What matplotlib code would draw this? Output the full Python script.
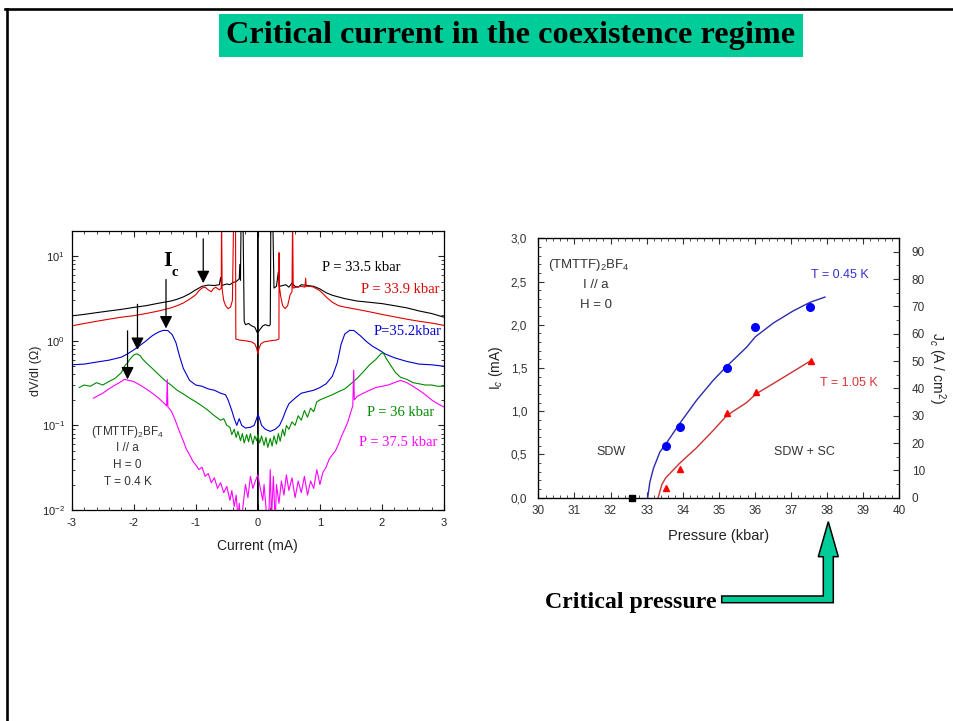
import numpy as np
import matplotlib.pyplot as plt
from matplotlib.ticker import MultipleLocator, FuncFormatter, LogLocator, NullFormatter
from matplotlib.patches import Rectangle, Polygon
from matplotlib.lines import Line2D

plt.rcParams['font.family'] = ['Liberation Sans', 'DejaVu Sans']
plt.rcParams['mathtext.fontset'] = 'custom'
plt.rcParams['mathtext.rm'] = 'Liberation Sans'
plt.rcParams['mathtext.it'] = 'Liberation Sans:italic'
plt.rcParams['mathtext.bf'] = 'Liberation Sans:bold'
plt.rcParams['axes.unicode_minus'] = False

# ---- dV/dI vs current, T = 0.4 K ----
i_335 = [-3.0, -2.8, -2.6, -2.4, -2.2, -2.0, -1.8, -1.6, -1.4, -1.3, -1.2, -1.1, -1.0, -0.9, -0.8,
         -0.7, -0.62, -0.6, -0.58, -0.5, -0.45, -0.4, -0.35, -0.3, -0.29, -0.28, -0.27, -0.24,
         -0.22, -0.2, -0.15, -0.1, -0.05, -0.02, 0.0, 0.0, 0.0, 0.0, 0.03, 0.08, 0.12, 0.18, 0.2,
         0.21, 0.24, 0.26, 0.3, 0.33, 0.35, 0.4, 0.45, 0.5, 0.55, 0.6, 0.65, 0.7, 0.8, 0.9, 1.0,
         1.1, 1.2, 1.4, 1.6, 1.8, 2.0, 2.2, 2.4, 2.6, 2.8, 3.0]
r_335 = [1.97, 2.05, 2.15, 2.25, 2.35, 2.48, 2.6, 2.78, 2.95, 3.1, 3.3, 3.6, 4.0, 4.4, 4.55,
         4.5, 4.6, 5.6, 4.5, 4.7, 4.6, 4.9, 5.0, 5.4, 8.0, 5.2, 30, 30,
         1.7, 1.55, 1.6, 1.5, 1.45, 1.3, 1.2, 0.005, 30, 1.25, 1.35, 1.5, 1.55, 1.5, 1.55,
         30, 30, 4.2, 4.4, 6.5, 4.4, 4.5, 4.6, 4.3, 4.8, 4.4, 4.3, 4.6, 4.5, 4.4, 4.1,
         3.7, 3.45, 3.15, 2.95, 2.85, 2.75, 2.6, 2.45, 2.25, 2.1, 1.9]

i_339 = [-3.0, -2.8, -2.6, -2.4, -2.2, -2.0, -1.8, -1.6, -1.4, -1.3, -1.2, -1.1, -1.0, -0.95,
         -0.9, -0.85, -0.8, -0.75, -0.72, -0.68, -0.62, -0.59, -0.585, -0.575, -0.55, -0.52,
         -0.48, -0.44, -0.41, -0.39, -0.36, -0.355, -0.3, -0.2, -0.1, -0.05, -0.02, 0.0, 0.02,
         0.05, 0.1, 0.2, 0.3, 0.34, 0.342, 0.345, 0.37, 0.4, 0.44, 0.48, 0.52, 0.55, 0.56, 0.57,
         0.62, 0.7, 0.76, 0.77, 0.78, 0.85, 0.9, 1.0, 1.05, 1.1, 1.2, 1.3, 1.4, 1.6, 1.8, 2.0,
         2.2, 2.4, 2.6, 2.8, 3.0]
r_339 = [1.5, 1.6, 1.7, 1.8, 1.9, 1.98, 2.1, 2.25, 2.45, 2.6, 2.8, 3.1, 3.5, 3.9,
         4.2, 4.3, 4.0, 3.8, 4.1, 4.3, 4.0, 4.2, 30, 4.0, 3.0, 2.6,
         2.4, 2.5, 3.0, 30, 30, 1.05, 1.02, 1.0, 0.97, 0.92, 0.82, 0.7, 0.82,
         0.92, 0.97, 1.0, 1.02, 1.05, 11, 4.5, 3.3, 2.6, 2.4, 2.6, 3.5, 3.8, 30, 4.2,
         4.3, 4.4, 4.3, 5.5, 4.4, 4.4, 4.3, 3.9, 3.6, 3.3, 2.85, 2.6, 2.5, 2.35, 2.2, 2.05,
         1.92, 1.8, 1.7, 1.62, 1.52]

i_352 = [-3.0, -2.8, -2.6, -2.4, -2.2, -2.1, -2.0, -1.9, -1.8, -1.7, -1.6, -1.52, -1.45, -1.38,
         -1.32, -1.26, -1.2, -1.1, -1.0, -0.9, -0.8, -0.7, -0.6, -0.52, -0.48, -0.42, -0.38,
         -0.34, -0.3, -0.26, -0.2, -0.12, -0.06, -0.02, 0.0, 0.02, 0.06, 0.12, 0.2, 0.28, 0.35,
         0.4, 0.45, 0.5, 0.6, 0.7, 0.8, 0.9, 1.0, 1.1, 1.2, 1.28, 1.34, 1.4, 1.48, 1.55, 1.65,
         1.75, 1.85, 1.95, 2.05, 2.2, 2.4, 2.6, 2.8, 3.0]
r_352 = [0.52, 0.53, 0.56, 0.59, 0.64, 0.7, 0.78, 0.88, 1.0, 1.15, 1.27, 1.33, 1.32, 1.18,
         0.95, 0.65, 0.47, 0.34, 0.3, 0.29, 0.27, 0.26, 0.24, 0.23, 0.2, 0.15, 0.12,
         0.1, 0.12, 0.1, 0.093, 0.095, 0.1, 0.12, 0.135, 0.125, 0.1, 0.09, 0.085, 0.09, 0.1,
         0.12, 0.15, 0.18, 0.21, 0.24, 0.25, 0.26, 0.28, 0.31, 0.38, 0.55, 0.9, 1.2, 1.33, 1.32,
         1.15, 0.98, 0.86, 0.78, 0.7, 0.63, 0.57, 0.53, 0.52, 0.5]

i_360 = [-2.88, -2.8, -2.7, -2.6, -2.5, -2.4, -2.3, -2.2, -2.15, -2.1, -2.05, -2.0, -1.95, -1.9,
         -1.85, -1.8, -1.7, -1.6, -1.5, -1.4, -1.3, -1.2, -1.1, -1.0, -0.9, -0.8, -0.7, -0.6,
         -0.55, -0.5, -0.45, -0.42, -0.38, -0.35, -0.32, -0.28, -0.25, -0.22, -0.18, -0.15,
         -0.12, -0.08, -0.05, -0.02, 0.0, 0.03, 0.06, 0.1, 0.13, 0.16, 0.2, 0.23, 0.26, 0.3,
         0.33, 0.36, 0.4, 0.43, 0.46, 0.5, 0.55, 0.6, 0.65, 0.7, 0.75, 0.8, 0.85, 0.9, 0.95,
         1.0, 1.1, 1.2, 1.3, 1.4, 1.5, 1.6, 1.7, 1.8, 1.9, 1.98, 2.02, 2.08, 2.15, 2.22, 2.3,
         2.4, 2.5, 2.6, 2.7, 2.8, 2.9, 3.0]
r_360 = [0.28, 0.3, 0.29, 0.32, 0.3, 0.33, 0.36, 0.42, 0.5, 0.55, 0.62, 0.68, 0.7, 0.67,
         0.6, 0.55, 0.47, 0.4, 0.34, 0.3, 0.26, 0.235, 0.21, 0.19, 0.17, 0.15, 0.13, 0.115,
         0.12, 0.1, 0.095, 0.078, 0.09, 0.072, 0.085, 0.066, 0.08, 0.062, 0.078, 0.064,
         0.08, 0.06, 0.075, 0.066, 0.078, 0.062, 0.075, 0.058, 0.072, 0.055, 0.07, 0.057, 0.075,
         0.06, 0.08, 0.065, 0.09, 0.075, 0.1, 0.09, 0.11, 0.1, 0.13, 0.115, 0.15, 0.125, 0.16,
         0.145, 0.19, 0.2, 0.215, 0.23, 0.25, 0.27, 0.31, 0.36, 0.43, 0.52, 0.6, 0.7, 0.72, 0.6,
         0.5, 0.42, 0.37, 0.35, 0.32, 0.31, 0.3, 0.3, 0.29, 0.29]

i_375 = [-2.65, -2.5, -2.4, -2.3, -2.2, -2.15, -2.08, -2.0, -1.9, -1.8, -1.7, -1.6, -1.5, -1.47,
         -1.46, -1.45, -1.4, -1.35, -1.3, -1.25, -1.2, -1.15, -1.1, -1.05, -1.0, -0.95, -0.9,
         -0.85, -0.8, -0.75, -0.7, -0.65, -0.6, -0.55, -0.5, -0.45, -0.42, -0.38, -0.35, -0.32,
         -0.3, -0.27, -0.24, -0.2, -0.16, -0.12, -0.08, -0.04, 0.0, 0.04, 0.08, 0.1, 0.14, 0.17,
         0.2, 0.22, 0.25, 0.28, 0.3, 0.34, 0.38, 0.42, 0.46, 0.5, 0.55, 0.6, 0.65, 0.7, 0.75,
         0.8, 0.85, 0.9, 0.95, 1.0, 1.05, 1.1, 1.15, 1.2, 1.25, 1.3, 1.35, 1.4, 1.45, 1.5, 1.53,
         1.545, 1.555, 1.6, 1.7, 1.8, 1.9, 2.0, 2.1, 2.2, 2.3, 2.35, 2.4, 2.5, 2.6, 2.7, 2.8,
         2.9, 3.0]
r_375 = [0.21, 0.24, 0.27, 0.3, 0.33, 0.35, 0.34, 0.33, 0.3, 0.27, 0.24, 0.21, 0.18, 0.17,
         0.35, 0.165, 0.15, 0.125, 0.1, 0.08, 0.065, 0.052, 0.045, 0.038, 0.034, 0.03, 0.032,
         0.025, 0.027, 0.021, 0.024, 0.018, 0.021, 0.016, 0.019, 0.013, 0.017, 0.011, 0.015, 0.008,
         0.012, 0.006, 0.011, 0.02, 0.014, 0.025, 0.018, 0.022, 0.026, 0.018, 0.013, 0.02, 0.009, 0.006,
         0.03, 0.008, 0.025, 0.007, 0.02, 0.012, 0.022, 0.015, 0.026, 0.017, 0.024, 0.014, 0.022, 0.016, 0.025,
         0.015, 0.022, 0.018, 0.03, 0.02, 0.028, 0.032, 0.04, 0.045, 0.05, 0.06, 0.075, 0.09, 0.11, 0.145, 0.17,
         0.45, 0.2, 0.22, 0.24, 0.26, 0.28, 0.29, 0.3, 0.32, 0.34, 0.33, 0.32, 0.29, 0.26, 0.23, 0.2,
         0.18, 0.165]

curves = [(i_335, r_335, 'black'), (i_339, r_339, '#e00000'), (i_352, r_352, '#0000d0'),
          (i_360, r_360, '#008a00'), (i_375, r_375, '#ff00ff')]

# critical current arrows: x, tail, tip
ic_pos = [-0.88, -1.48, -1.94, -2.1]
ic_tail = [16, 5.3, 2.7, 1.31]
ic_tip = [4.8, 1.4, 0.78, 0.35]

p_labels = ['P = 33.5 kbar', 'P = 33.9 kbar', 'P=35.2kbar', 'P = 36 kbar', 'P = 37.5 kbar']
p_colors = ['black', '#e00000', '#0000d0', '#008a00', '#ff00ff']

# ---- Ic vs pressure ----
p_045 = [33.53, 33.92, 35.22, 36.01, 37.53]
ic_045 = [0.6, 0.82, 1.5, 1.97, 2.21]
p_105 = [33.53, 33.92, 35.22, 36.03, 37.55]
ic_105 = [0.11, 0.33, 0.98, 1.22, 1.58]
p_sdw = [32.6]
ic_sdw = [0.0]
fit_p_045 = [33.03, 33.09, 33.19, 33.37, 33.53, 33.92, 34.39, 34.85, 35.22, 35.77, 36.01, 36.51,
             37.06, 37.53, 37.94]
fit_ic_045 = [0.0, 0.18, 0.34, 0.53, 0.62, 0.86, 1.13, 1.36, 1.52, 1.74, 1.86, 2.02,
              2.16, 2.26, 2.32]
fit_p_105 = [33.32, 33.42, 33.53, 33.92, 34.39, 34.85, 35.22, 35.77, 36.03, 36.51, 37.06, 37.57]
fit_ic_105 = [0.0, 0.15, 0.23, 0.4, 0.58, 0.78, 0.95, 1.1, 1.2, 1.32, 1.46, 1.59]

W, H = 954, 721
fig = plt.figure(figsize=(W / 100, H / 100), dpi=100)


def box(x0, y0, x1, y1):
    return [x0 / W, 1 - y1 / H, (x1 - x0) / W, (y1 - y0) / H]


def fpt(x, y):
    return (x / W, 1 - y / H)


# slide frame
fig.add_artist(Line2D([5 / W, 1], [1 - 8.5 / H] * 2, color='black', lw=1.9))
fig.add_artist(Line2D([7.5 / W] * 2, [1 - 8.5 / H, 0], color='black', lw=1.9))

# title banner
fig.add_artist(Rectangle((219 / W, 1 - 57 / H), 584 / W, 43 / H, transform=fig.transFigure,
                         facecolor='#00cc99', edgecolor='none'))
fig.text(511 / W, 1 - 36 / H, 'Critical current in the coexistence regime', ha='center', va='center',
         family='Liberation Serif', weight='bold', fontsize=23.2)

# ---- left panel ----
ax1 = fig.add_axes(box(71.7, 230.7, 444, 510))
for xs, ys, c in curves:
    ax1.plot(xs, ys, color=c, lw=0.8)
ax1.set_yscale('log')
ax1.set_xlim(-3, 3)
ax1.set_ylim(0.01, 20)
ax1.xaxis.set_major_locator(MultipleLocator(1))
ax1.xaxis.set_minor_locator(MultipleLocator(0.2))
ax1.yaxis.set_minor_locator(LogLocator(base=10, subs=np.arange(2, 10)))
ax1.yaxis.set_minor_formatter(NullFormatter())
ax1.tick_params(which='both', direction='in', top=True, right=True, labelsize=8, colors='#222222')
ax1.tick_params(which='major', length=4, width=0.8)
ax1.tick_params(which='minor', length=2, width=0.6)
ax1.tick_params(axis='x', pad=6)
ax1.tick_params(axis='y', pad=5)
ax1.set_xlabel('Current (mA)', fontsize=10, color='#222222', labelpad=8)
ax1.set_ylabel('dV/dI (\u03a9)', fontsize=9, color='#222222', labelpad=0)
for s in ax1.spines.values():
    s.set_linewidth(0.9)

for x, y0, y1 in zip(ic_pos, ic_tail, ic_tip):
    ax1.annotate('', xy=(x, y1), xytext=(x, y0),
                 arrowprops=dict(arrowstyle='-|>,head_length=0.75,head_width=0.38', color='black',
                                 lw=0.9, shrinkA=0, shrinkB=0))
ax1.text(-1.46, 7.6, 'I', family='Liberation Serif', weight='bold', fontsize=16, ha='center', va='baseline')
ax1.text(-1.39, 7.6, 'c', family='Liberation Serif', weight='bold', fontsize=10.5, ha='left', va='top')

p_pos = [(2.3, 7.4), (2.93, 4.0), (2.96, 1.28), (2.85, 0.143), (2.9, 0.063)]
for (x, y), lab, c in zip(p_pos, p_labels, p_colors):
    ax1.text(x, y, lab, color=c, family='Liberation Serif', fontsize=10.5, ha='right', va='center')

sample = ['(TMTTF)$_2$BF$_4$', 'I // a', 'H = 0', 'T = 0.4 K']
for k, line in enumerate(sample):
    ax1.text(-2.1, [0.083, 0.054, 0.034, 0.0215][k], line, fontsize=8.5, color='#333333',
             ha='center', va='center')

# ---- right panel ----
ax2 = fig.add_axes(box(538.3, 238.3, 899.3, 497.7))
ax2.plot(fit_p_045, fit_ic_045, color='#2b2bb0', lw=1.0)
ax2.plot(fit_p_105, fit_ic_105, color='#c83232', lw=1.0)
ax2.plot(p_045, ic_045, 'o', color='#0000ff', ms=5.5)
ax2.plot(p_105, ic_105, '^', color='#ff0000', ms=4.8)
ax2.plot(p_sdw, ic_sdw, 's', color='black', ms=5, clip_on=False)
ax2.set_xlim(30, 40)
ax2.set_ylim(0, 3.0)
ax2.xaxis.set_major_locator(MultipleLocator(1))
ax2.xaxis.set_minor_locator(MultipleLocator(0.2))
ax2.yaxis.set_major_locator(MultipleLocator(0.5))
ax2.yaxis.set_minor_locator(MultipleLocator(0.1))
ax2.yaxis.set_major_formatter(FuncFormatter(lambda v, p: f'{v:.1f}'.replace('.', ',')))
ax2.tick_params(which='both', direction='in', top=True, labelsize=8.5, colors='#333333')
ax2.tick_params(which='major', length=4, width=0.8)
ax2.tick_params(which='minor', length=2, width=0.6)
ax2.tick_params(axis='y', pad=8)
ax2.tick_params(axis='x', pad=5)
ax2.set_xlabel('Pressure (kbar)', fontsize=10.5, color='#222222', labelpad=9)
ax2.set_ylabel('I$_c$ (mA)', fontsize=10, color='#222222', labelpad=4)
for s in ax2.spines.values():
    s.set_linewidth(0.9)

ax3 = ax2.twinx()
ax3.set_ylim(0, 94.9)
ax3.yaxis.set_major_locator(MultipleLocator(10))
ax3.yaxis.set_minor_locator(MultipleLocator(5))
ax3.tick_params(which='both', direction='in', labelsize=8.5, colors='#333333')
ax3.tick_params(which='major', length=4, width=0.8)
ax3.tick_params(which='minor', length=2, width=0.6)
ax3.tick_params(axis='y', pad=9)
ax3.set_ylabel('J$_c$ (A / cm$^2$)', fontsize=10, color='#222222', rotation=270, labelpad=16)

ax2.text(30.28, 2.69, '(TMTTF)$_2$BF$_4$', fontsize=9.5, color='#333333', ha='left', va='center')
ax2.text(31.6, 2.46, 'I // a', fontsize=9.5, color='#333333', ha='center', va='center')
ax2.text(31.6, 2.23, 'H = 0', fontsize=9.5, color='#333333', ha='center', va='center')
ax2.text(38.35, 2.57, 'T = 0.45 K', fontsize=9, color='#3333cc', ha='center', va='center')
ax2.text(38.6, 1.33, 'T = 1.05 K', fontsize=9, color='#dd3333', ha='center', va='center')
ax2.text(32.0, 0.53, 'SDW', fontsize=9, color='#333333', ha='center', va='center')
ax2.text(37.37, 0.53, 'SDW + SC', fontsize=9, color='#333333', ha='center', va='center')

# critical pressure callout
arrow_px = [(721.7, 596), (823.3, 596), (823.3, 556.7), (818.3, 556.7), (828.3, 521.7),
            (838.3, 556.7), (833.3, 556.7), (833.3, 602.7), (721.7, 602.7)]
fig.add_artist(Polygon([fpt(x, y) for x, y in arrow_px], closed=True, transform=fig.transFigure,
                       facecolor='#00cc99', edgecolor='black', lw=1.1))
fig.text(545 / W, 1 - 608 / H, 'Critical pressure', family='Liberation Serif', weight='bold',
         fontsize=17.2, ha='left', va='baseline')

fig.savefig('out.png', dpi=100)
